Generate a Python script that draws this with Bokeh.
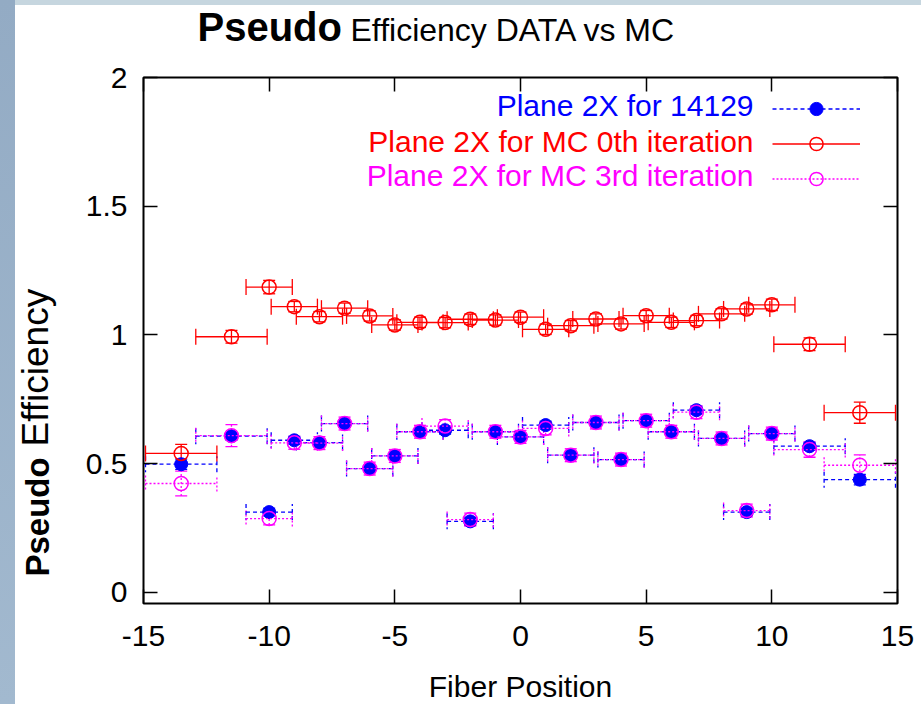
import math
from bokeh.plotting import figure
from bokeh.models import (ColumnDataSource, Range1d, LinearAxis, FixedTicker,
                          CustomJSTickFormatter, Whisker, TeeHead, Label, Legend,
                          LegendItem, Div)
from bokeh.layouts import row, column
from bokeh.embed import file_html
from bokeh.resources import INLINE
from bokeh.core.properties import value

# ---------------- data ----------------
positions = [-13.5, -11.5, -10, -9, -8, -7, -6, -5, -4, -3, -2, -1, 0,
             1, 2, 3, 4, 5, 6, 7, 8, 9, 10, 11.5, 13.5]
x_half = [1.42, 1.42, 0.92, 0.92, 0.92, 0.92, 0.92, 0.92, 0.92, 0.92, 0.92, 0.92, 0.92,
          0.92, 0.92, 0.92, 0.92, 0.92, 0.92, 0.92, 0.92, 0.92, 0.92, 1.42, 1.42]

eff_data = [0.498, 0.607, 0.312, 0.591, 0.582, 0.656, 0.481, 0.530, 0.624, 0.630, 0.276, 0.624, 0.604,
            0.650, 0.533, 0.660, 0.516, 0.667, 0.624, 0.708, 0.598, 0.312, 0.617, 0.568, 0.438]
err_data = [0.020, 0.015, 0.015, 0.015, 0.015, 0.015, 0.015, 0.015, 0.015, 0.015, 0.015, 0.015, 0.015,
            0.015, 0.015, 0.015, 0.015, 0.015, 0.015, 0.015, 0.015, 0.015, 0.015, 0.015, 0.020]

eff_mc0 = [0.540, 0.993, 1.186, 1.110, 1.071, 1.104, 1.074, 1.039, 1.049, 1.048, 1.061, 1.058, 1.069,
           1.022, 1.036, 1.062, 1.043, 1.075, 1.049, 1.056, 1.082, 1.101, 1.117, 0.964, 0.698]
err_mc0 = [0.035, 0.025, 0.026, 0.020, 0.020, 0.020, 0.020, 0.020, 0.020, 0.020, 0.020, 0.020, 0.020,
           0.020, 0.020, 0.020, 0.020, 0.020, 0.020, 0.020, 0.020, 0.020, 0.022, 0.025, 0.041]

eff_mc3 = [0.423, 0.609, 0.287, 0.581, 0.580, 0.656, 0.481, 0.530, 0.624, 0.646, 0.283, 0.624, 0.604,
           0.637, 0.533, 0.660, 0.516, 0.667, 0.624, 0.700, 0.598, 0.318, 0.617, 0.555, 0.494]
err_mc3 = [0.048, 0.043, 0.025, 0.025, 0.025, 0.025, 0.025, 0.025, 0.025, 0.025, 0.025, 0.025, 0.025,
           0.025, 0.025, 0.025, 0.025, 0.025, 0.025, 0.025, 0.025, 0.025, 0.025, 0.030, 0.040]

x_ticks = [-15, -10, -5, 0, 5, 10, 15]
y_ticks = [0, 0.5, 1, 1.5, 2]
series_labels = ["Plane 2X for 14129",
                 "Plane 2X for MC 0th iteration",
                 "Plane 2X for MC 3rd iteration"]
title_parts = ["Pseudo", "Efficiency DATA vs MC"]
ylabel_parts = ["Pseudo", "Efficiency"]
xlabel = "Fiber Position"

FONT = "Liberation Sans"
BLUE, RED, MAGENTA = "#0000ff", "#ff0000", "#ff00ff"


def blank_figure(w, h, top=0, bottom=0, yspan=None):
    f = figure(width=w, height=h, x_range=Range1d(0, w),
               y_range=Range1d(0, yspan if yspan is not None else h),
               output_backend="svg", toolbar_location=None,
               x_axis_location=None, y_axis_location=None,
               min_border=0, min_border_left=0, min_border_right=0,
               min_border_top=top, min_border_bottom=bottom)
    f.title.visible = False
    f.grid.visible = False
    f.outline_line_color = None
    f.background_fill_color = "white"
    f.border_fill_color = "white"
    return f


# ---------------- title strip (abs y 5..50; data y = 50 - abs y) ----------------
title_fig = blank_figure(906, 45)
title_fig.text(x=[182], y=[23.5], text=[title_parts[0]], text_font=value(FONT),
               text_font_size="40px", text_font_style="bold", text_color="black",
               text_baseline="middle", text_align="left")
title_fig.text(x=[335], y=[21], text=[title_parts[1]], text_font=value(FONT),
               text_font_size="32px", text_color="black",
               text_baseline="middle", text_align="left")

# ---------------- y label strip (frame abs x 15..65, y 77..603; data y = 603 - abs y) ----------------
ylab_fig = blank_figure(50, 610, top=27, bottom=57, yspan=526)
ylab_fig.text(x=[21.5], y=[27], text=[ylabel_parts[0]], angle=math.pi / 2,
              text_font=value(FONT), text_font_size="33px", text_font_style="bold",
              text_color="black", text_baseline="middle", text_align="left")
ylab_fig.text(x=[19.5], y=[157], text=[ylabel_parts[1]], angle=math.pi / 2,
              text_font=value(FONT), text_font_size="37px",
              text_color="black", text_baseline="middle", text_align="left")

# ---------------- x label strip (abs y 660..704; data y = 704 - abs y) ----------------
xlab_fig = blank_figure(906, 44)
xlab_fig.text(x=[505], y=[18], text=[xlabel], text_font=value(FONT),
              text_font_size="30px", text_color="black",
              text_baseline="middle", text_align="center")

# ---------------- main plot ----------------
p = figure(width=856, height=610, x_range=Range1d(-15, 15), y_range=Range1d(-0.043, 2),
           output_backend="svg", toolbar_location=None,
           min_border_left=78, min_border_right=24, min_border_top=27, min_border_bottom=57,
           background_fill_color="white", border_fill_color="white")
p.title.visible = False
p.xgrid.visible = False
p.ygrid.visible = False
p.outline_line_color = "black"
p.outline_line_width = 2

p.add_layout(LinearAxis(), "above")
p.add_layout(LinearAxis(), "right")

for ax in p.xaxis:
    ax.ticker = FixedTicker(ticks=x_ticks)
for ax in p.yaxis:
    ax.ticker = FixedTicker(ticks=y_ticks)
for ax in p.xaxis + p.yaxis:
    ax.major_tick_in = 14
    ax.major_tick_out = 0
    ax.major_tick_line_width = 1.5
    ax.major_tick_line_color = "black"
    ax.minor_tick_line_color = None
    ax.axis_line_color = None
    ax.major_label_text_font = FONT
    ax.major_label_text_font_size = "30px"
    ax.major_label_text_color = "black"
    ax.formatter = CustomJSTickFormatter(code="return tick.toString();")

p.above[0].formatter = CustomJSTickFormatter(code="return '';")
p.right[0].formatter = CustomJSTickFormatter(code="return '';")
p.below[0].major_label_standoff = 22
p.left[0].major_label_standoff = 16


def make_source(y, err):
    return ColumnDataSource(dict(
        x=positions, y=y,
        xl=[a - h for a, h in zip(positions, x_half)],
        xu=[a + h for a, h in zip(positions, x_half)],
        yl=[a - e for a, e in zip(y, err)],
        yu=[a + e for a, e in zip(y, err)],
    ))


legend_items = []
specs = [
    (eff_data, err_data, BLUE, "4 3", True),
    (eff_mc0, err_mc0, RED, "solid", False),
    (eff_mc3, err_mc3, MAGENTA, "2 2", False),
]
for (yv, ev, col, dash, filled), lab in zip(specs, series_labels):
    src = make_source(yv, ev)
    seg = p.segment(x0="xl", y0="y", x1="xu", y1="y", source=src,
                    line_color=col, line_dash=dash, line_width=1.3)
    p.add_layout(Whisker(source=src, base="y", lower="xl", upper="xu", dimension="width",
                         line_alpha=0,
                         lower_head=TeeHead(size=16, line_color=col, line_dash=dash, line_width=1.3),
                         upper_head=TeeHead(size=16, line_color=col, line_dash=dash, line_width=1.3)))
    p.add_layout(Whisker(source=src, base="x", lower="yl", upper="yu", dimension="height",
                         line_color=col, line_dash=dash, line_width=1.3,
                         lower_head=TeeHead(size=12, line_color=col, line_width=1.3),
                         upper_head=TeeHead(size=12, line_color=col, line_width=1.3)))
    if filled:
        sc = p.scatter("x", "y", source=src, marker="circle", size=13,
                       fill_color=col, line_color=col, line_width=1)
    else:
        sc = p.scatter("x", "y", source=src, marker="circle", size=14,
                       fill_color=None, line_color=col, line_width=1.5)
    legend_items.append(LegendItem(label=value(" "), renderers=[seg, sc]))

legend = Legend(items=legend_items, location=(629, 408.5), glyph_width=88, glyph_height=33,
                spacing=2, padding=0, margin=0, label_width=0, label_standoff=0,
                label_text_font_size="1px", border_line_color=None,
                background_fill_alpha=0)
p.add_layout(legend)

# legend texts (right aligned, left of the keys)
for lab, col, yy in zip(series_labels, [BLUE, RED, MAGENTA], [498, 462.5, 428]):
    p.add_layout(Label(x=610, y=yy, x_units="screen", y_units="screen", text=lab,
                       text_align="right", text_baseline="middle", text_color=col,
                       text_font=FONT, text_font_size="30px"))

left_strip = Div(width=15, height=704, margin=0,
                 styles={"background": "linear-gradient(#93abc4, #a2b9cf)"})
top_band = Div(width=906, height=5, margin=0, styles={"background-color": "#c6d6df"})
layout = row(left_strip,
             column(top_band, title_fig, row(ylab_fig, p, spacing=0), xlab_fig, spacing=0),
             spacing=0)

open("out.html", "w").write(file_html(layout, INLINE))
